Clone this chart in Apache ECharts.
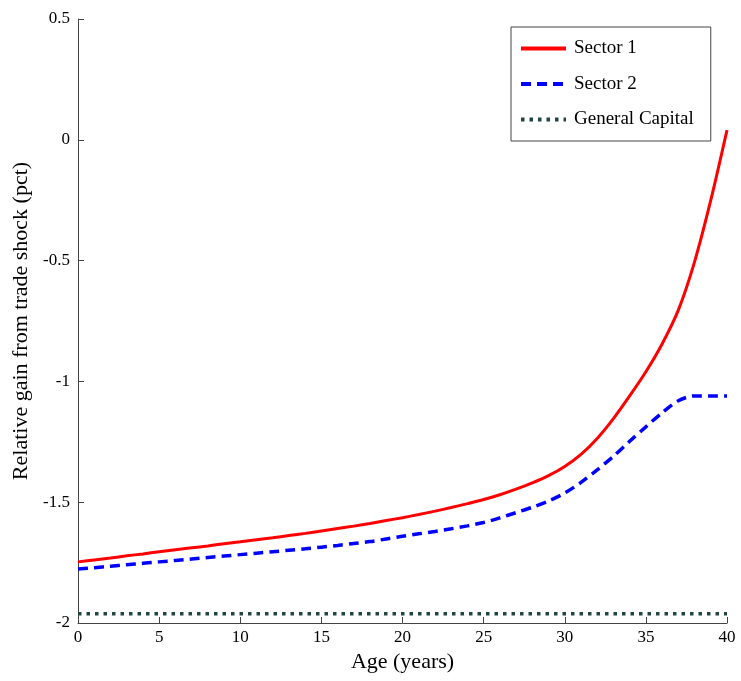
<!DOCTYPE html>
<html>
<head>
<meta charset="utf-8">
<script src="https://cdn.jsdelivr.net/npm/echarts@6/dist/echarts.min.js"></script>
<style>
html, body { margin: 0; padding: 0; background: #fff; }
#chart { width: 741px; height: 681px; }
</style>
</head>
<body>
<div id="chart"></div>
<script>
// age in years
var ages = [];
for (var a = 0; a <= 40; a++) { ages.push(a); }

// relative gain (pct)
var sector1 = [
  -1.747, -1.739, -1.731, -1.722, -1.714, -1.705, -1.697, -1.689, -1.681, -1.672,
  -1.664, -1.655, -1.647, -1.638, -1.629, -1.619, -1.609, -1.599, -1.588, -1.576,
  -1.564, -1.551, -1.537, -1.522, -1.506, -1.489, -1.469, -1.446, -1.420, -1.390,
  -1.352, -1.302, -1.236, -1.154, -1.060, -0.960, -0.845, -0.705, -0.505, -0.250,
  0.040
];
var sector2 = [
  -1.776, -1.771, -1.765, -1.759, -1.753, -1.747, -1.741, -1.735, -1.729, -1.723,
  -1.717, -1.711, -1.705, -1.699, -1.693, -1.686, -1.679, -1.671, -1.663, -1.652,
  -1.641, -1.631, -1.621, -1.610, -1.598, -1.584, -1.565, -1.543, -1.521, -1.495,
  -1.462, -1.418, -1.366, -1.310, -1.248, -1.188, -1.130, -1.080, -1.060, -1.060,
  -1.060
];
var generalCapital = [];
for (var i = 0; i < ages.length; i++) { generalCapital.push(-1.962); }

var seriesNames = ['Sector 1', 'Sector 2', 'General Capital'];

function pairs(vals) {
  return ages.map(function (x, i) { return [x, vals[i]]; });
}

var serif = '"Liberation Serif", "DejaVu Serif", serif';
var axisCol = '#444';

var chart = echarts.init(document.getElementById('chart'));
chart.setOption({
  animation: false,
  backgroundColor: '#fff',
  grid: { left: 78, right: 14, top: 19, bottom: 58, containLabel: false, outerBoundsMode: 'none' },
  legend: {
    orient: 'vertical',
    left: 511,
    top: 27,
    data: seriesNames,
    itemWidth: 45,
    itemHeight: 14,
    itemGap: 16.5,
    padding: [12, 17, 12, 8],
    borderColor: '#444',
    borderWidth: 1,
    backgroundColor: '#fff',
    itemStyle: { opacity: 0 },
    lineStyle: { width: 4 },
    textStyle: { fontFamily: serif, fontSize: 19, lineHeight: 19, color: '#000', padding: [0, 0, 0, 3] }
  },
  xAxis: {
    type: 'value',
    min: 0, max: 40, interval: 5,
    name: 'Age (years)',
    nameLocation: 'middle',
    nameGap: 28,
    nameTextStyle: { fontFamily: serif, fontSize: 22, color: '#000' },
    axisLine: { show: true, onZero: false, lineStyle: { color: axisCol, width: 1 } },
    axisTick: { show: true, inside: true, length: 6, lineStyle: { color: axisCol } },
    axisLabel: { fontFamily: serif, fontSize: 17, color: '#000', margin: 6 },
    splitLine: { show: false }
  },
  yAxis: {
    type: 'value',
    min: -2, max: 0.5, interval: 0.5,
    name: 'Relative gain from trade shock (pct)',
    nameLocation: 'middle',
    nameGap: 45,
    nameTextStyle: { fontFamily: serif, fontSize: 22, color: '#000' },
    axisLine: { show: true, onZero: false, lineStyle: { color: axisCol, width: 1 } },
    axisTick: { show: true, inside: true, length: 6, lineStyle: { color: axisCol } },
    axisLabel: { fontFamily: serif, fontSize: 17, color: '#000', margin: 8 },
    splitLine: { show: false }
  },
  series: [
    {
      name: seriesNames[0], type: 'line', data: pairs(sector1),
      symbol: 'none', smooth: 0.3,
      lineStyle: { color: '#ff0000', width: 3 },
      itemStyle: { color: '#ff0000' }, z: 3
    },
    {
      name: seriesNames[1], type: 'line', data: pairs(sector2),
      symbol: 'none', smooth: 0.3,
      lineStyle: { color: '#0000ff', width: 3.5, type: [10, 6] },
      itemStyle: { color: '#0000ff' }, z: 2
    },
    {
      name: seriesNames[2], type: 'line', data: pairs(generalCapital),
      symbol: 'none',
      lineStyle: { color: '#234541', width: 3.5, type: [3.5, 5] },
      itemStyle: { color: '#234541' }, z: 1
    }
  ]
});
</script>
</body>
</html>
